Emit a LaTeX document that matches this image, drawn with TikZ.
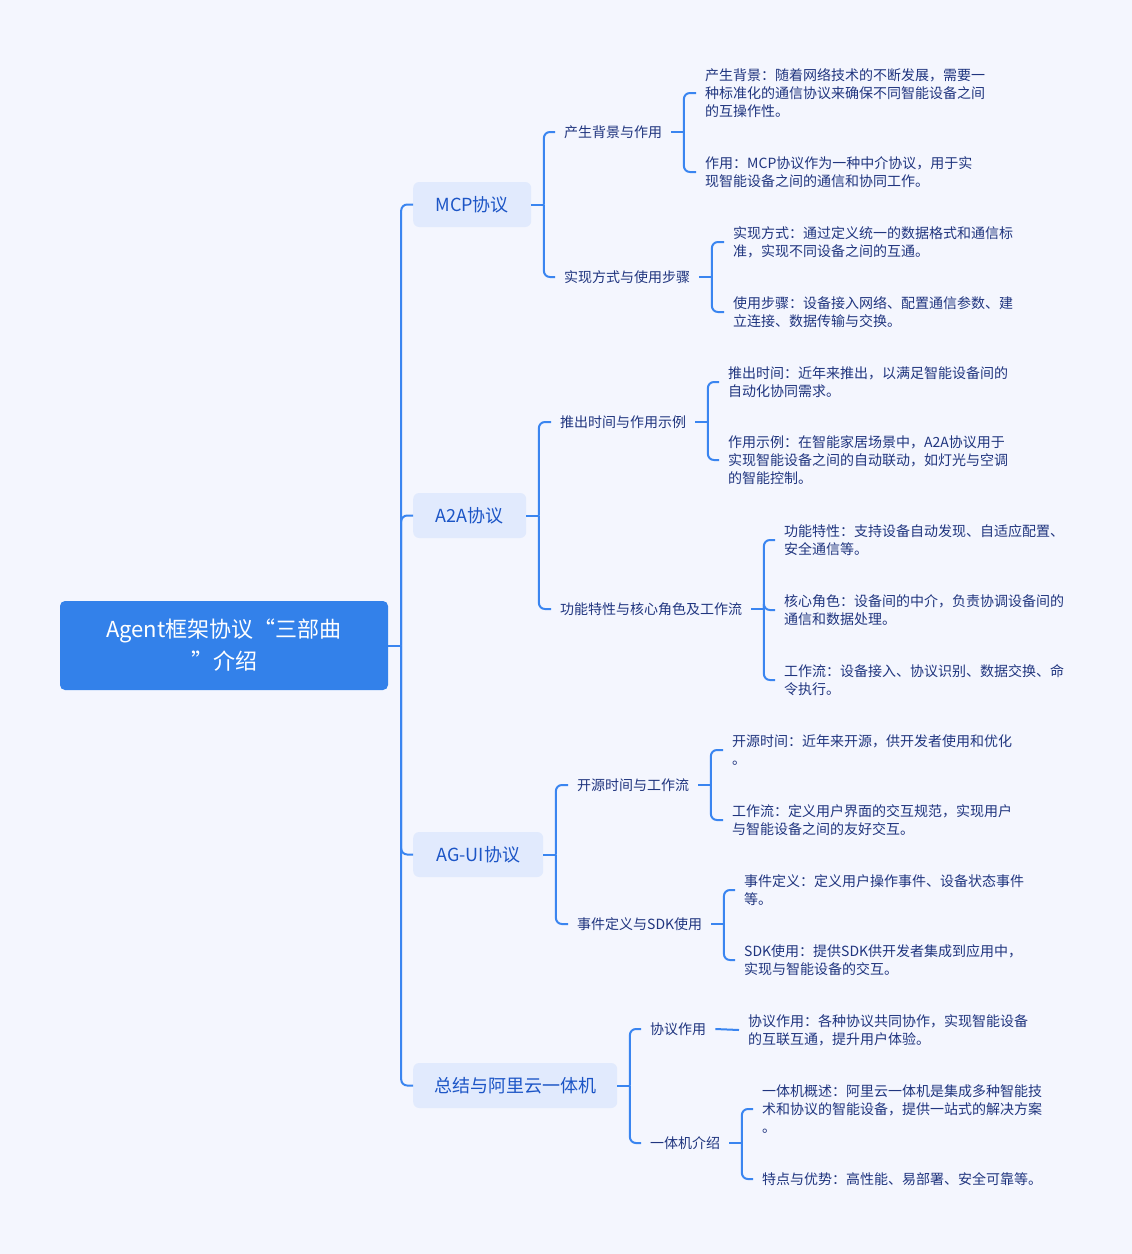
\documentclass[tikz,border=0pt]{standalone}
\usepackage{fontspec}
\setmainfont{Noto Sans CJK SC}
\usetikzlibrary{positioning}
\definecolor{paperbg}{HTML}{F4F6FE}
\definecolor{linkblue}{HTML}{3A85F0}
\definecolor{rootblue}{HTML}{3381EA}
\definecolor{topicfill}{HTML}{E1EAFD}
\definecolor{topictext}{HTML}{1C55C6}
\definecolor{leaftext}{HTML}{20357F}
\tikzset{
    root/.style={rectangle, rounded corners=5pt, fill=rootblue, text=white, align=center, minimum width=328pt, minimum height=89pt, font=\fontsize{22pt}{32pt}\selectfont},
    topic/.style={rectangle, rounded corners=6pt, fill=topicfill, text=topictext, anchor=west, minimum height=45pt, inner xsep=21pt, font=\fontsize{18pt}{22pt}\selectfont},
    subtopic/.style={anchor=west, text=leaftext, inner xsep=9pt, inner ysep=2pt, font=\fontsize{14pt}{18pt}\selectfont},
    leaf/.style={anchor=west, align=left, text=leaftext, inner xsep=9pt, inner ysep=0pt, font=\fontsize{14pt}{18pt}\selectfont},
    link/.style={draw=linkblue, line width=2pt, rounded corners=6pt}
}
\begin{document}
\begin{tikzpicture}[x=1pt, y=-1pt]

    % Background
    \fill[paperbg] (0,0) rectangle (1132,1254);

    % Root and topics
    \node[root] (agent) at (224,645.5) {Agent框架协议“三部曲\\”介绍};
    \node[topic, minimum width=118pt] (mcp) at (413,204.5) {MCP协议};
    \node[topic, minimum width=113pt] (a2a) at (413,515.5) {A2A协议};
    \node[topic, minimum width=130pt] (agui) at (413,854.5) {AG-UI协议};
    \node[topic, minimum width=203pt] (summ) at (413,1085.5) {总结与阿里云一体机};

    % Subtopics
    \node[subtopic] (mcpBg) at (555,132) {产生背景与作用};
    \node[subtopic] (mcpImpl) at (555,277) {实现方式与使用步骤};
    \node[subtopic] (a2aTime) at (551,422) {推出时间与作用示例};
    \node[subtopic] (a2aFunc) at (551,609) {功能特性与核心角色及工作流};
    \node[subtopic] (aguiOpen) at (568,785) {开源时间与工作流};
    \node[subtopic] (aguiEvent) at (568,924) {事件定义与SDK使用};
    \node[subtopic] (summRole) at (641,1029) {协议作用};
    \node[subtopic] (summBox) at (641,1143) {一体机介绍};

    % Leaves
    \node[leaf] (bgText) at (696,93) {产生背景：随着网络技术的不断发展，需要一\\种标准化的通信协议来确保不同智能设备之间\\的互操作性。};
    \node[leaf] (bgRole) at (696,172) {作用：MCP协议作为一种中介协议，用于实\\现智能设备之间的通信和协同工作。};
    \node[leaf] (implWay) at (724,242) {实现方式：通过定义统一的数据格式和通信标\\准，实现不同设备之间的互通。};
    \node[leaf] (implStep) at (724,312) {使用步骤：设备接入网络、配置通信参数、建\\立连接、数据传输与交换。};
    \node[leaf] (timeIntro) at (719,382) {推出时间：近年来推出，以满足智能设备间的\\自动化协同需求。};
    \node[leaf] (timeCase) at (719,460) {作用示例：在智能家居场景中，A2A协议用于\\实现智能设备之间的自动联动，如灯光与空调\\的智能控制。};
    \node[leaf] (funcFeat) at (775,540) {功能特性：支持设备自动发现、自适应配置、\\安全通信等。};
    \node[leaf] (funcCore) at (775,610) {核心角色：设备间的中介，负责协调设备间的\\通信和数据处理。};
    \node[leaf] (funcFlow) at (775,680) {工作流：设备接入、协议识别、数据交换、命\\令执行。};
    \node[leaf] (openTime) at (723,750) {开源时间：近年来开源，供开发者使用和优化\\。};
    \node[leaf] (openFlow) at (723,820) {工作流：定义用户界面的交互规范，实现用户\\与智能设备之间的友好交互。};
    \node[leaf] (eventDef) at (735,890) {事件定义：定义用户操作事件、设备状态事件\\等。};
    \node[leaf] (eventSdk) at (735,960) {SDK使用：提供SDK供开发者集成到应用中，\\实现与智能设备的交互。};
    \node[leaf] (roleText) at (739,1030) {协议作用：各种协议共同协作，实现智能设备\\的互联互通，提升用户体验。};
    \node[leaf] (boxIntro) at (753,1109) {一体机概述：阿里云一体机是集成多种智能技\\术和协议的智能设备，提供一站式的解决方案\\。};
    \node[leaf] (boxFeat) at (753,1179) {特点与优势：高性能、易部署、安全可靠等。};

    % Junctions
    \coordinate (agentJ) at ([xshift=13pt]agent.east);
    \coordinate (mcpJ) at ([xshift=12.5pt]mcp.east);
    \coordinate (a2aJ) at ([xshift=12.5pt]a2a.east);
    \coordinate (aguiJ) at ([xshift=12.5pt]agui.east);
    \coordinate (summJ) at ([xshift=12.5pt]summ.east);
    \coordinate (mcpBgJ) at ([xshift=12.5pt]mcpBg.east);
    \coordinate (mcpImplJ) at ([xshift=12.5pt]mcpImpl.east);
    \coordinate (a2aTimeJ) at ([xshift=12.5pt]a2aTime.east);
    \coordinate (a2aFuncJ) at ([xshift=12.5pt]a2aFunc.east);
    \coordinate (aguiOpenJ) at ([xshift=12.5pt]aguiOpen.east);
    \coordinate (aguiEventJ) at ([xshift=12.5pt]aguiEvent.east);
    \coordinate (summBoxJ) at ([xshift=12.5pt]summBox.east);

    % Links: root to topics
    \draw[link] (agent.east) -- (agentJ);
    \draw[link] (agentJ) |- (mcp.west);
    \draw[link] (agentJ) |- (a2a.west);
    \draw[link] (agentJ) |- (agui.west);
    \draw[link] (agentJ) |- (summ.west);

    % Links: topics to subtopics
    \draw[link] (mcp.east) -- (mcpJ);
    \draw[link] (mcpJ) |- (mcpBg.west);
    \draw[link] (mcpJ) |- (mcpImpl.west);
    \draw[link] (a2a.east) -- (a2aJ);
    \draw[link] (a2aJ) |- (a2aTime.west);
    \draw[link] (a2aJ) |- (a2aFunc.west);
    \draw[link] (agui.east) -- (aguiJ);
    \draw[link] (aguiJ) |- (aguiOpen.west);
    \draw[link] (aguiJ) |- (aguiEvent.west);
    \draw[link] (summ.east) -- (summJ);
    \draw[link] (summJ) |- (summRole.west);
    \draw[link] (summJ) |- (summBox.west);

    % Links: subtopics to leaves
    \draw[link] (mcpBg.east) -- (mcpBgJ);
    \draw[link] (mcpBgJ) |- (bgText.west);
    \draw[link] (mcpBgJ) |- (bgRole.west);
    \draw[link] (mcpImpl.east) -- (mcpImplJ);
    \draw[link] (mcpImplJ) |- (implWay.west);
    \draw[link] (mcpImplJ) |- (implStep.west);
    \draw[link] (a2aTime.east) -- (a2aTimeJ);
    \draw[link] (a2aTimeJ) |- (timeIntro.west);
    \draw[link] (a2aTimeJ) |- (timeCase.west);
    \draw[link] (a2aFunc.east) -- (a2aFuncJ);
    \draw[link] (a2aFuncJ) |- (funcFeat.west);
    \draw[link] (a2aFuncJ) |- (funcCore.west);
    \draw[link] (a2aFuncJ) |- (funcFlow.west);
    \draw[link] (aguiOpen.east) -- (aguiOpenJ);
    \draw[link] (aguiOpenJ) |- (openTime.west);
    \draw[link] (aguiOpenJ) |- (openFlow.west);
    \draw[link] (aguiEvent.east) -- (aguiEventJ);
    \draw[link] (aguiEventJ) |- (eventDef.west);
    \draw[link] (aguiEventJ) |- (eventSdk.west);
    \draw[link] (summRole.east) -- (roleText.west);
    \draw[link] (summBox.east) -- (summBoxJ);
    \draw[link] (summBoxJ) |- (boxIntro.west);
    \draw[link] (summBoxJ) |- (boxFeat.west);

\end{tikzpicture}
\end{document}
